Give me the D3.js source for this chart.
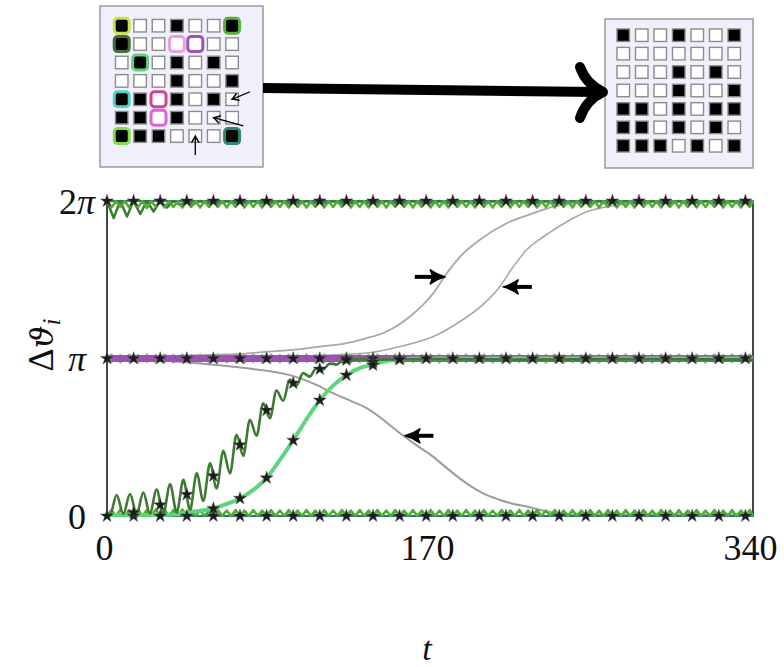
<!DOCTYPE html>
<html lang="en">
<head>
<meta charset="UTF-8">
<title>phase differences</title>
<script src="https://d3js.org/d3.v7.min.js"></script>
<style>
    body { margin: 0; background: #fff; }
    svg { display: block; }
    text { font-family: "Liberation Serif", "DejaVu Serif", serif; fill: #111; }
</style>
</head>
<body>
<svg width="784" height="667"></svg>
<script>
const tMax = 340;
const xTicks = [0, 170, 340];
const yTicks = [0, Math.PI, 2 * Math.PI];
const yTickLabels = ['0', 'π', '2π'];

// star markers, one every 14 time units
const starTimes = [0, 14, 28, 42, 56, 70, 84, 98, 112, 126, 140, 154, 168, 182, 196, 210, 224, 238, 252, 266, 280, 294, 308, 322, 336];
const darkStars = [[14, 0.07], [28, 0.22], [42, 0.43], [56, 0.80], [70, 1.42], [84, 2.11], [98, 2.65], [112, 2.93], [126, 3.11], [140, 3.07]];
const lightStars = [[56, 0.15], [70, 0.35], [84, 0.76], [98, 1.51], [112, 2.31], [126, 2.81], [140, 3.01], [154, 3.12]];

// sawtooth lines: one tooth every 14/3 time units, depth of each tooth (rad)
const toothPeriod = 14 / 3;
const topDips = [0.13, 0.12, 0.13, 0.12, 0.14, 0.12, 0.13, 0.12, 0.13, 0.12, 0.13, 0.12, 0.12, 0.13, 0.12, 0.13,
    0.12, 0.13, 0.12, 0.12, 0.13, 0.12, 0.13, 0.12, 0.13, 0.12, 0.12, 0.13, 0.12, 0.13, 0.12, 0.13, 0.12, 0.12,
    0.13, 0.12, 0.13, 0.12, 0.13, 0.12, 0.12, 0.13, 0.12, 0.13, 0.12, 0.13, 0.12, 0.12, 0.13, 0.12, 0.13, 0.12,
    0.13, 0.12, 0.12, 0.13, 0.12, 0.13, 0.12, 0.13, 0.12, 0.12, 0.13, 0.12, 0.13, 0.12, 0.13, 0.12, 0.12, 0.13,
    0.12, 0.13, 0.12];
const bottomBumps = [0.12, 0.13, 0.12, 0.13, 0.12, 0.13, 0.12, 0.12, 0.13, 0.12, 0.12, 0.11, 0.12, 0.11, 0.12,
    0.11, 0.12, 0.11, 0.12, 0.11, 0.12, 0.11, 0.12, 0.11, 0.12, 0.11, 0.12, 0.11, 0.12, 0.11, 0.12, 0.11, 0.12,
    0.11, 0.12, 0.11, 0.12, 0.11, 0.12, 0.11, 0.12, 0.11, 0.12, 0.11, 0.12, 0.11, 0.12, 0.11, 0.12, 0.11, 0.12,
    0.11, 0.12, 0.11, 0.12, 0.11, 0.12, 0.11, 0.12, 0.11, 0.12, 0.11, 0.12, 0.11, 0.12, 0.11, 0.12, 0.11, 0.12,
    0.11, 0.12, 0.11, 0.12];
const piUp = [0.09, 0.08, 0.09, 0.08, 0.09, 0.08, 0.09, 0.08, 0.09, 0.08, 0.09, 0.08, 0.09, 0.08, 0.09, 0.08,
    0.09, 0.08, 0.09, 0.08, 0.09, 0.08, 0.09, 0.08, 0.09, 0.08, 0.09, 0.08, 0.09, 0.08, 0.09, 0.08, 0.09, 0.08,
    0.09, 0.08, 0.09, 0.08, 0.09, 0.08, 0.09, 0.08, 0.09, 0.08, 0.09, 0.08, 0.09, 0.08, 0.09, 0.08, 0.09, 0.08,
    0.09, 0.08, 0.09, 0.08, 0.09, 0.08, 0.09, 0.08, 0.09, 0.08, 0.09, 0.08, 0.09, 0.08, 0.09, 0.08, 0.09, 0.08,
    0.09, 0.08, 0.09];
const piDown = [0.08, 0.09, 0.08, 0.09, 0.08, 0.09, 0.08, 0.09, 0.08, 0.09, 0.08, 0.09, 0.08, 0.09, 0.08, 0.09,
    0.08, 0.09, 0.08, 0.09, 0.08, 0.09, 0.08, 0.09, 0.08, 0.09, 0.08, 0.09, 0.08, 0.09, 0.08, 0.09, 0.08, 0.09,
    0.08, 0.09, 0.08, 0.09, 0.08, 0.09, 0.08, 0.09, 0.08, 0.09, 0.08, 0.09, 0.08, 0.09, 0.08, 0.09, 0.08, 0.09,
    0.08, 0.09, 0.08, 0.09, 0.08, 0.09, 0.08, 0.09, 0.08, 0.09, 0.08, 0.09, 0.08, 0.09, 0.08, 0.09, 0.08, 0.09,
    0.08, 0.09, 0.08];
// dark green line at 2pi, slower teeth (every 7 time units)
const darkPeriod = 7;
const topDarkDips = [0.34, 0.31, 0.26, 0.21, 0.13, 0.08, 0.06, 0.05, 0.05, 0.05, 0.05, 0.05, 0.05, 0.05, 0.05,
    0.05, 0.05, 0.05, 0.05, 0.05, 0.05, 0.05, 0.05, 0.05, 0.05, 0.05, 0.05, 0.05, 0.05, 0.05, 0.05, 0.05, 0.05,
    0.05, 0.05, 0.05, 0.05, 0.05, 0.05, 0.05, 0.05, 0.05, 0.05, 0.05, 0.05, 0.05, 0.05, 0.05, 0.05];

// rising / falling curves, [t, value]
const darkRise = [[0, 0.03], [1.6, 0.03], [5.1, 0.42], [8.6, 0.04], [12.1, 0.44], [15.6, 0.04], [19.1, 0.47],
    [22.6, 0.05], [26.1, 0.53], [29.6, 0.05], [33.2, 0.63], [36.7, 0.07], [40.2, 0.72], [43.7, 0.12], [47.2, 0.85],
    [50.7, 0.30], [54.2, 1.05], [57.7, 0.55], [61.2, 1.30], [64.7, 0.85], [68.2, 1.62], [71.7, 1.20], [75.2, 1.92],
    [78.7, 1.60], [82.2, 2.25], [85.7, 1.95], [89.2, 2.50], [92.7, 2.30], [96.2, 2.72], [99.7, 2.60], [103.2, 2.85],
    [106.7, 2.78], [110.2, 2.95], [113.7, 2.92], [117.2, 3.04], [120.7, 3.02], [124.2, 3.10], [127.7, 3.09],
    [131.2, 3.13], [140, 3.12], [170, 3.13], [220, 3.12], [280, 3.13], [340, 3.12]];
const lightRise = [[0, 0.02], [20, 0.02], [35, 0.03], [46, 0.09], [56, 0.15], [63, 0.24], [70, 0.35], [77, 0.52],
    [84, 0.76], [91, 1.12], [98, 1.51], [105, 1.93], [112, 2.31], [119, 2.60], [126, 2.81], [133, 2.95],
    [140, 3.02], [147, 3.09], [154, 3.12], [168, 3.14], [340, 3.14]];
const grayUpA = [[0, 3.17], [20, 3.18], [40, 3.20], [60, 3.22], [73, 3.24], [85, 3.28], [99, 3.32], [112, 3.38],
    [125, 3.44], [136, 3.54], [145.4, 3.65], [152, 3.78], [159.5, 3.98], [166, 4.20], [171.7, 4.44], [178.8, 4.84],
    [185.8, 5.17], [196.3, 5.51], [210.3, 5.84], [224.4, 6.04], [234.9, 6.17], [250, 6.25], [265, 6.28], [340, 6.28]];
const grayUpB = [[0, 3.12], [40, 3.12], [80, 3.15], [110, 3.20], [136.7, 3.25], [154, 3.38], [171.8, 3.58],
    [185.8, 3.88], [198, 4.22], [206.8, 4.58], [213.8, 4.97], [220.9, 5.31], [229.7, 5.57], [242, 5.87],
    [252.5, 6.07], [259.5, 6.14], [270, 6.21], [285, 6.26], [300, 6.28], [340, 6.28]];
const grayDown = [[0, 3.14], [20, 3.12], [46, 3.05], [72.6, 2.95], [99, 2.78], [110, 2.62], [119, 2.45],
    [128, 2.30], [136.7, 2.15], [145, 1.93], [154.2, 1.65], [163, 1.41], [171.7, 1.18], [180, 0.92], [189.3, 0.65],
    [198, 0.45], [206.8, 0.32], [214, 0.24], [220.9, 0.19], [228, 0.12], [236, 0.06], [245, 0.03], [340, 0.03]];

// arrows pointing at the gray curves: [tail t, tip t, value]
const curveArrows = [[162, 178, 4.77], [223.6, 208.5, 4.57], [171.8, 156.8, 1.60]];

// 7x7 patterns, 1 = black cell
const gridBefore = [
    [1, 0, 0, 1, 0, 0, 1],
    [1, 0, 0, 0, 0, 0, 0],
    [0, 1, 0, 1, 0, 1, 0],
    [0, 0, 0, 1, 0, 0, 1],
    [1, 1, 0, 1, 0, 1, 0],
    [1, 1, 0, 1, 0, 0, 0],
    [1, 1, 1, 0, 0, 0, 1]];
const gridAfter = [
    [1, 0, 0, 1, 0, 0, 1],
    [0, 0, 0, 0, 0, 0, 0],
    [0, 0, 0, 1, 0, 1, 0],
    [0, 0, 0, 1, 0, 0, 1],
    [1, 1, 0, 1, 0, 1, 1],
    [1, 1, 0, 1, 0, 1, 0],
    [1, 1, 1, 0, 1, 0, 1]];
const ringCells = [[0, 0, '#c9e24c'], [0, 6, '#58b23a'], [1, 0, '#456e3c'], [1, 3, '#eaa0dc'], [1, 4, '#9d55b5'],
    [2, 1, '#63d27f'], [4, 0, '#4dd4c8'], [4, 2, '#d4448c'], [5, 2, '#d866d8'], [6, 0, '#7ee04a'], [6, 6, '#2d8576']];
// small arrows in the left grid, [col, row] of tail and tip
const gridArrows = [[[6.97, 3.59], [6, 4]], [[6.61, 5.45], [5, 5]], [[4, 7.03], [4, 6]]];

const svg = d3.select('svg');
const x = d3.scaleLinear().domain([0, tMax]).range([107, 753]);
const y = d3.scaleLinear().domain([0, 2 * Math.PI]).range([516, 201]);
const line = d3.line().x(d => x(d[0])).y(d => y(d[1]));
const smooth = d3.line().x(d => x(d[0])).y(d => y(d[1])).curve(d3.curveMonotoneX);

function teeth(level, sign, amps, period) {
    let pts = [];
    amps.forEach((a, k) => {
        pts.push([k * period, level]);
        pts.push([k * period + period / 2, level + sign * a]);
    });
    pts = pts.filter(p => p[0] < tMax);
    pts.push([tMax, level]);
    return pts;
}

// frame
svg.append('rect')
    .attr('x', x(0)).attr('y', y(2 * Math.PI))
    .attr('width', x(tMax) - x(0)).attr('height', y(0) - y(2 * Math.PI))
    .attr('fill', 'none').attr('stroke', '#1a1a1a').attr('stroke-width', 1.6);

const plot = svg.append('g').attr('fill', 'none').attr('stroke-linejoin', 'round');

// gray lines
plot.append('path').attr('d', line(teeth(Math.PI, 1, piUp, toothPeriod))).attr('stroke', '#a6a6a6').attr('stroke-width', 1.6);
plot.append('path').attr('d', line(teeth(Math.PI, -1, piDown, toothPeriod))).attr('stroke', '#a6a6a6').attr('stroke-width', 1.6);
plot.append('path').attr('d', smooth(grayUpA)).attr('stroke', '#a8a8a8').attr('stroke-width', 1.8);
plot.append('path').attr('d', smooth(grayUpB)).attr('stroke', '#a8a8a8').attr('stroke-width', 1.6);
plot.append('path').attr('d', smooth(grayDown)).attr('stroke', '#9c9c9c').attr('stroke-width', 2);

// purple band at pi
plot.append('path').attr('d', line([[0, Math.PI], [tMax, Math.PI]])).attr('stroke', '#9d52b3').attr('stroke-width', 7);

// greens
plot.append('path').attr('d', line([[0, 0], [tMax, 0]])).attr('stroke', '#2f7f8a').attr('stroke-width', 1.5);
plot.append('path').attr('d', line([[0, 2 * Math.PI], [tMax, 2 * Math.PI]])).attr('stroke', '#2f7f8a').attr('stroke-width', 1.5);
plot.append('path').attr('d', line(teeth(2 * Math.PI, -1, topDarkDips, darkPeriod))).attr('stroke', '#3d7a32').attr('stroke-width', 2.5);
plot.append('path').attr('d', line(teeth(2 * Math.PI, -1, topDips, toothPeriod))).attr('stroke', '#4dae33').attr('stroke-width', 2.5);
plot.append('path').attr('d', line(teeth(0, 1, bottomBumps, toothPeriod))).attr('stroke', '#4dae33').attr('stroke-width', 2.5);
plot.append('path').attr('d', smooth(lightRise)).attr('stroke', '#5fd47e').attr('stroke-width', 4);
plot.append('path').attr('d', smooth(darkRise)).attr('stroke', '#3d7a32').attr('stroke-width', 2.6);

// stars
const stars = [];
starTimes.forEach(t => { stars.push([t, 0], [t, Math.PI], [t, 2 * Math.PI]); });
darkStars.concat(lightStars).forEach(s => stars.push(s));
svg.append('g').selectAll('path').data(stars).join('path')
    .attr('transform', d => `translate(${x(d[0])},${y(d[1])})`)
    .attr('d', d3.symbol(d3.symbolStar, 52))
    .attr('fill', '#1c1c1c').attr('stroke', '#555').attr('stroke-width', 0.5);

// arrows at gray curves
const arrows = svg.append('g');
curveArrows.forEach(([t0, t1, v]) => {
    const x0 = x(t0), x1 = x(t1), yy = y(v);
    const dir = x1 > x0 ? 1 : -1;
    arrows.append('line').attr('x1', x0).attr('y1', yy).attr('x2', x1 - dir * 8).attr('y2', yy)
        .attr('stroke', '#000').attr('stroke-width', 4);
    arrows.append('path')
        .attr('d', 'M0,0 Q-8,-2 -15,-7 Q-11,0 -15,7 Q-8,2 0,0 Z')
        .attr('transform', `translate(${x1},${yy}) scale(${dir},1)`)
        .attr('fill', '#000').attr('stroke', '#000').attr('stroke-width', 1.5).attr('stroke-linejoin', 'round');
});

// axes
const yAxis = svg.append('g').attr('transform', `translate(${x(0)},0)`)
    .call(d3.axisLeft(y).tickValues(yTicks).tickSize(0).tickPadding(0))
    .call(g => g.select('.domain').remove());
yAxis.selectAll('.tick text')
    .attr('font-size', 36).attr('text-anchor', 'middle').attr('x', -30).attr('dy', '0.34em')
    .each(function (d, i) {
        const el = d3.select(this).text(null);
        for (const ch of yTickLabels[i]) {
            el.append('tspan').attr('font-style', ch === 'π' ? 'italic' : 'normal').text(ch);
        }
    });

svg.append('g').attr('transform', `translate(0,${y(0)})`)
    .call(d3.axisBottom(x).tickValues(xTicks).tickFormat(d3.format('d')).tickSize(0).tickPadding(18))
    .call(g => g.select('.domain').remove())
    .selectAll('.tick text').attr('font-size', 36).attr('dx', -3);

svg.append('text').attr('x', 427).attr('y', 660).attr('text-anchor', 'middle')
    .attr('font-size', 34).attr('font-style', 'italic').text('t');

const ylab = svg.append('text').attr('transform', 'translate(53,345) rotate(-90)')
    .attr('text-anchor', 'middle').attr('font-size', 36);
ylab.append('tspan').text('Δ');
ylab.append('tspan').attr('font-style', 'italic').attr('font-family', '"DejaVu Serif", serif').attr('font-size', 32).text('ϑ');
ylab.append('tspan').attr('font-style', 'italic').attr('font-size', 25).attr('dy', 7).text('i');

// grids on top
function drawGrid(box, colRange, rowRange, grid, rings) {
    const g = svg.append('g');
    g.append('rect').attr('x', box[0]).attr('y', box[1]).attr('width', box[2]).attr('height', box[3])
        .attr('fill', '#f0f0fc').attr('stroke', '#9a9a9a').attr('stroke-width', 1.5);
    const cx = d3.scaleBand().domain(d3.range(7)).range(colRange);
    const cy = d3.scaleBand().domain(d3.range(7)).range(rowRange);
    const cells = [];
    grid.forEach((row, r) => row.forEach((v, c) => cells.push({ r, c, v })));
    const s = 12.5;
    g.selectAll('rect.cell').data(cells).join('rect').attr('class', 'cell')
        .attr('x', d => cx(d.c) + cx.bandwidth() / 2 - s / 2)
        .attr('y', d => cy(d.r) + cy.bandwidth() / 2 - s / 2)
        .attr('width', s).attr('height', s)
        .attr('fill', d => d.v ? '#000' : '#fff')
        .attr('stroke', '#8c8c8c').attr('stroke-width', 1.4);
    const rs = 15;
    g.selectAll('rect.ring').data(rings).join('rect').attr('class', 'ring')
        .attr('x', d => cx(d[1]) + cx.bandwidth() / 2 - rs / 2)
        .attr('y', d => cy(d[0]) + cy.bandwidth() / 2 - rs / 2)
        .attr('width', rs).attr('height', rs).attr('rx', 3.5)
        .attr('fill', d => grid[d[0]][d[1]] ? '#000' : '#fff')
        .attr('stroke', d => d[2]).attr('stroke-width', 3);
    return { cx, cy };
}

const left = drawGrid([100, 6, 163, 161], [112.5, 241.3], [16.5, 145.3], gridBefore, ringCells);
drawGrid([605, 19, 148, 149], [614, 743.5], [26, 155], gridAfter, []);

const cellX = c => left.cx(0) + left.cx.bandwidth() / 2 + c * left.cx.step();
const cellY = r => left.cy(0) + left.cy.bandwidth() / 2 + r * left.cy.step();
gridArrows.forEach(([from, to]) => {
    const x0 = cellX(from[0]), y0 = cellY(from[1]), x1 = cellX(to[0]), y1 = cellY(to[1]);
    const ang = Math.atan2(y1 - y0, x1 - x0) * 180 / Math.PI;
    svg.append('line').attr('x1', x0).attr('y1', y0).attr('x2', x1).attr('y2', y1)
        .attr('stroke', '#000').attr('stroke-width', 1.3);
    svg.append('path').attr('d', 'M-6,-3.5 Q-2,-1 0,0 Q-2,1 -6,3.5')
        .attr('transform', `translate(${x1},${y1}) rotate(${ang})`)
        .attr('fill', 'none').attr('stroke', '#000').attr('stroke-width', 1.5).attr('stroke-linecap', 'round');
});

// big arrow between grids
svg.append('line').attr('x1', 263).attr('y1', 88).attr('x2', 598).attr('y2', 92)
    .attr('stroke', '#000').attr('stroke-width', 10);
svg.append('path').attr('d', 'M580,67 Q586,84 603,92 Q586,100 580,118')
    .attr('fill', 'none').attr('stroke', '#000').attr('stroke-width', 10)
    .attr('stroke-linecap', 'round').attr('stroke-linejoin', 'round');
</script>
</body>
</html>
